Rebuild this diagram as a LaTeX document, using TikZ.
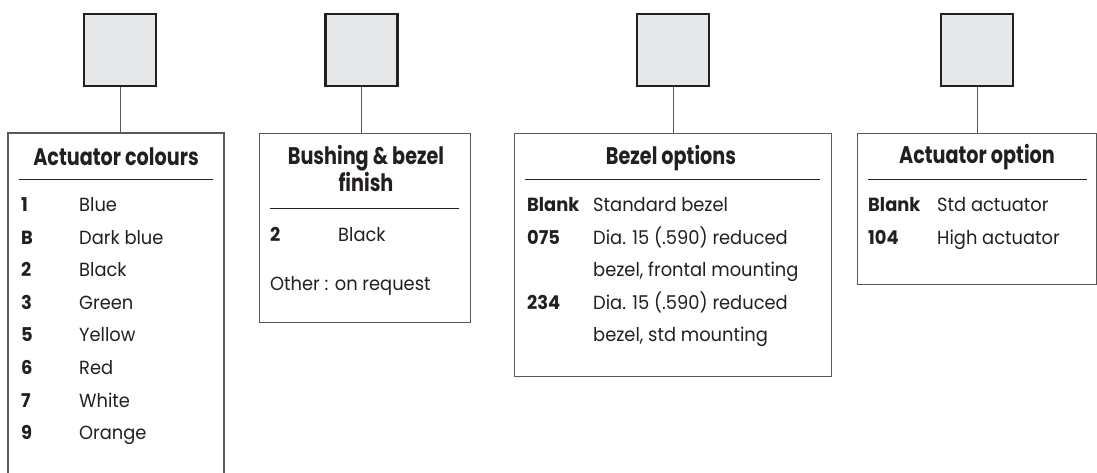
\documentclass[tikz,border=0pt]{standalone}
\usepackage{fontspec}
\setmainfont{Poppins}
\newfontfamily\ttlfont{Poppins}[FakeStretch=0.8]
\newfontfamily\bodyfont{Poppins}[FakeStretch=0.94]
\definecolor{ink}{HTML}{231F20}
\definecolor{sqfill}{HTML}{E6E7E8}
\definecolor{frame}{HTML}{58595B}
\begin{document}
\begin{tikzpicture}[x=1pt,y=-1pt,
  sq/.style={draw=ink, line width=2.2pt, fill=sqfill, minimum size=72pt, inner sep=0pt},
  frm/.style={draw=frame, line width=1.1pt},
  conn/.style={draw=frame, line width=1pt},
  sep/.style={draw=ink, line width=0.8pt},
  ttl/.style={font=\ttlfont\bfseries\fontsize{24}{27}\selectfont, text=ink, anchor=base, inner sep=0pt, align=center},
  num/.style={font=\bodyfont\bfseries\fontsize{19}{21}\selectfont, text=ink, anchor=base west, inner sep=0pt},
  lbl/.style={font=\bodyfont\fontsize{19}{21}\selectfont, text=ink, anchor=base west, inner sep=0pt}]
\useasboundingbox (0,0) rectangle (1097,473);
% squares
\node[sq] (s1) at (120,50) {};
\node[sq] (s2) at (361.5,50) {};
\node[sq] (s3) at (673,50) {};
\node[sq] (s4) at (977,50) {};
% boxes
\draw[frm] (8,480) -- (8,133) -- (224,133) -- (224,480);
\coordinate (b1) at (120,133);
\node[frm, anchor=north west, minimum width=211pt, minimum height=189pt, inner sep=0pt] (b2) at (259,133) {};
\node[frm, anchor=north west, minimum width=317pt, minimum height=243pt, inner sep=0pt] (b3) at (514,133) {};
\node[frm, anchor=north west, minimum width=239pt, minimum height=151pt, inner sep=0pt] (b4) at (857,133) {};
% connectors
\draw[conn] (s1.south) -- (s1.south |- b1);
\draw[conn] (s2.south) -- (s2.south |- b2.north);
\draw[conn] (s3.south) -- (s3.south |- b3.north);
\draw[conn] (s4.south) -- (s4.south |- b4.north);
% titles
\node[ttl] (t1) at (116,166) {Actuator colours};
\node[ttl] (t2) at (366,192) {Bushing \& bezel\\finish};
\node[ttl] (t3) at (671,165) {Bezel options};
\node[ttl] (t4) at (977,164) {Actuator option};
% separators
\draw[sep] (19,179) -- (213,179);
\draw[sep] (270,208) -- (459,208);
\draw[sep] (525,179.5) -- (820,179.5);
\draw[sep] (868,179) -- (1087,179);
% box 1 entries
\node[num] (n11) at (21,211.5) {1};   \node[lbl] (l11) at (79,211.5) {Blue};
\node[num] (n12) at (21,244.1) {B};   \node[lbl] (l12) at (79,244.1) {Dark blue};
\node[num] (n13) at (21,276.7) {2};   \node[lbl] (l13) at (79,276.7) {Black};
\node[num] (n14) at (21,309.3) {3};   \node[lbl] (l14) at (79,309.3) {Green};
\node[num] (n15) at (21,341.9) {5};   \node[lbl] (l15) at (79,341.9) {Yellow};
\node[num] (n16) at (21,374.5) {6};   \node[lbl] (l16) at (79,374.5) {Red};
\node[num] (n17) at (21,407.1) {7};   \node[lbl] (l17) at (79,407.1) {White};
\node[num] (n18) at (21,439.7) {9};   \node[lbl] (l18) at (79,439.7) {Orange};
% box 2 entries
\node[num] (n21) at (270,241.7) {2};  \node[lbl] (l21) at (338,241.7) {Black};
\node[lbl] (l22) at (270,290) {Other : on request};
% box 3 entries
\node[num] (n31) at (527,211.5) {Blank}; \node[lbl] (l31) at (593,211.5) {Standard bezel};
\node[num] (n32) at (527,244.1) {075};   \node[lbl] (l32) at (593,244.1) {Dia. 15 (.590) reduced};
\node[lbl] (l33) at (593,276.7) {bezel, frontal mounting};
\node[num] (n34) at (527,309.3) {234};   \node[lbl] (l34) at (593,309.3) {Dia. 15 (.590) reduced};
\node[lbl] (l35) at (593,341.9) {bezel, std mounting};
% box 4 entries
\node[num] (n41) at (868,211.5) {Blank}; \node[lbl] (l41) at (937,211.5) {Std actuator};
\node[num] (n42) at (868,244.1) {104};   \node[lbl] (l42) at (937,244.1) {High actuator};
\end{tikzpicture}
\end{document}
